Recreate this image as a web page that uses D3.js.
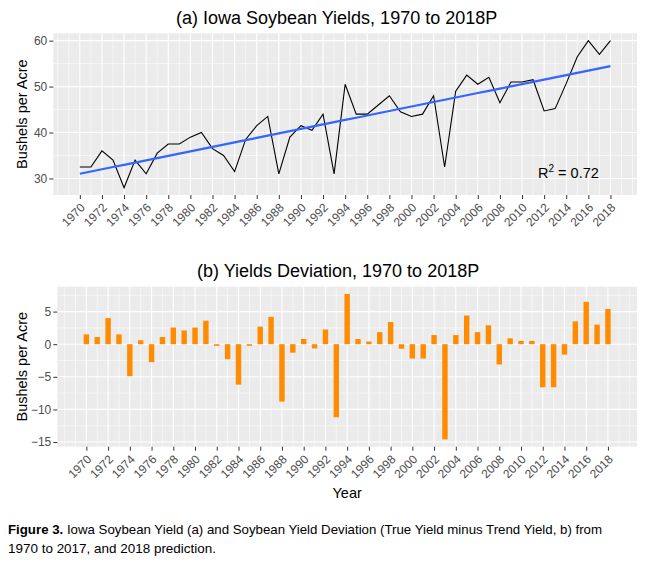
<!DOCTYPE html>
<html><head><meta charset="utf-8">
<script src="https://cdn.jsdelivr.net/npm/d3@7/dist/d3.min.js"></script>
<style>body{margin:0;background:#fff}text{font-family:"Liberation Sans",Arial,sans-serif}</style>
</head><body><svg id="c" width="649" height="565"></svg>
<script>
const years = [1970,1971,1972,1973,1974,1975,1976,1977,1978,1979,1980,1981,1982,1983,1984,1985,1986,1987,1988,1989,1990,1991,1992,1993,1994,1995,1996,1997,1998,1999,2000,2001,2002,2003,2004,2005,2006,2007,2008,2009,2010,2011,2012,2013,2014,2015,2016,2017,2018];
const yields = [32.5,32.5,36,34,28,34,31,35.5,37.5,37.5,39,40,36.5,35,31.5,38.5,41.5,43.5,31,39,41.5,40.5,44,31,50.5,44,44,46,48,44.5,43.5,44,48,32.5,49,52.5,50.5,52,46.5,51,51,51.5,44.7,45.2,50.7,56.5,60,57,60];
const deviations = [1.5,1.1,4.0,1.5,-4.9,0.6,-2.75,1.1,2.55,2.1,2.55,3.6,-0.25,-2.3,-6.2,-0.25,2.7,4.2,-8.8,-1.3,0.8,-0.65,2.25,-11.2,7.7,0.8,0.4,1.85,3.4,-0.7,-2.2,-2.2,1.4,-14.6,1.4,4.4,1.85,2.9,-3.1,0.9,0.5,0.5,-6.6,-6.6,-1.6,3.5,6.5,3.0,5.4];
const xTicks = [1970,1972,1974,1976,1978,1980,1982,1984,1986,1988,1990,1992,1994,1996,1998,2000,2002,2004,2006,2008,2010,2012,2014,2016,2018];
const xMinor = [1968,1969,1971,1973,1975,1977,1979,1981,1983,1985,1987,1989,1991,1993,1995,1997,1999,2001,2003,2005,2007,2009,2011,2013,2015,2017,2019,2020];
const yTicksA = [30,40,50,60];
const yMinorA = [35,45,55];
const yTicksB = [-15,-10,-5,0,5];
const yMinorB = [-12.5,-7.5,-2.5,2.5,7.5];
const titleA = "(a) Iowa Soybean Yields, 1970 to 2018P";
const titleB = "(b) Yields Deviation, 1970 to 2018P";
const rsqLabel = "0.72";

const svg = d3.select("#c");
svg.append("rect").attr("width",649).attr("height",565).attr("fill","#fff");

function expand(lo, hi){ const d=(hi-lo)*0.05; return [lo-d, hi+d]; }

function panel(g, x, y, xt, xm, yt, ym, L, R, T, B){
  g.append("rect").attr("x",L).attr("y",T).attr("width",R-L).attr("height",B-T).attr("fill","#EBEBEB");
  g.selectAll(".ym").data(ym).join("line").attr("x1",L).attr("x2",R).attr("y1",d=>y(d)).attr("y2",d=>y(d)).attr("stroke","#fff").attr("stroke-width",0.55);
  g.selectAll(".xm").data(xm).join("line").attr("y1",T).attr("y2",B).attr("x1",d=>x(d)).attr("x2",d=>x(d)).attr("stroke","#fff").attr("stroke-width",0.55);
  g.selectAll(".yM").data(yt).join("line").attr("x1",L).attr("x2",R).attr("y1",d=>y(d)).attr("y2",d=>y(d)).attr("stroke","#fff").attr("stroke-width",1.1);
  g.selectAll(".xM").data(xt).join("line").attr("y1",T).attr("y2",B).attr("x1",d=>x(d)).attr("x2",d=>x(d)).attr("stroke","#fff").attr("stroke-width",1.1);
}
function axes(g, x, y, xt, yt, L, B, fmt){
  const ya = g.append("g").attr("transform",`translate(${L},0)`).call(d3.axisLeft(y).tickValues(yt).tickSize(4).tickPadding(2).tickFormat(fmt));
  ya.select(".domain").remove();
  ya.selectAll("line").attr("stroke","#333").attr("stroke-width",1);
  ya.selectAll("text").attr("fill","#4D4D4D").style("font-size","12px");
  const xa = g.append("g").attr("transform",`translate(0,${B})`).call(d3.axisBottom(x).tickValues(xt).tickSize(4).tickFormat(d3.format("d")));
  xa.select(".domain").remove();
  xa.selectAll("line").attr("stroke","#333").attr("stroke-width",1);
  xa.selectAll("text").attr("fill","#4D4D4D").style("font-size","12px")
    .attr("text-anchor","end").attr("y",0).attr("dy",0)
    .attr("transform","translate(0,8) rotate(-45) translate(0,7.5)");
}

// ---------- Panel (a) ----------
{
  const L=53.3, R=637, T=33.3, B=195;
  const x = d3.scaleLinear().domain(expand(d3.min(years), d3.max(years))).range([L,R]);
  const y = d3.scaleLinear().domain(expand(d3.min(yields), d3.max(yields))).range([B,T]);
  const g = svg.append("g");
  panel(g, x, y, xTicks, xMinor, yTicksA, yMinorA, L, R, T, B);
  // least-squares trend (geom_smooth, method = lm)
  const mx = d3.mean(years), my = d3.mean(yields);
  const slope = d3.sum(years, (v,i)=>(v-mx)*(yields[i]-my)) / d3.sum(years, v=>(v-mx)*(v-mx));
  const icpt = my - slope*mx;
  g.append("path").datum(years.map((v,i)=>[v,yields[i]]))
    .attr("d", d3.line().x(d=>x(d[0])).y(d=>y(d[1])))
    .attr("fill","none").attr("stroke","#000").attr("stroke-width",1.1);
  g.append("path").datum(years)
    .attr("d", d3.line().x(d=>x(d)).y(d=>y(icpt+slope*d)))
    .attr("fill","none").attr("stroke","#3366FF").attr("stroke-width",2.2);
  axes(g, x, y, xTicks, yTicksA, L, B, d3.format("d"));
  const r = g.append("text").attr("x",538).attr("y",178).attr("fill","#000").style("font-size","14.5px");
  r.append("tspan").text("R");
  r.append("tspan").attr("dy",-6).style("font-size","10px").text("2");
  r.append("tspan").attr("dy",6).text(" = " + rsqLabel);
  g.append("text").attr("x",176).attr("y",24).style("font-size","18px").attr("fill","#000").text(titleA);
  g.append("text").attr("transform",`translate(27,${(T+B)/2}) rotate(-90)`).attr("text-anchor","middle").style("font-size","14.5px").attr("fill","#000").text("Bushels per Acre");
}

// ---------- Panel (b) ----------
{
  const L=57.3, R=637, T=286.7, B=446.7;
  const x = d3.scaleLinear().domain(expand(d3.min(years)-0.25, d3.max(years)+0.25)).range([L,R]);
  const y = d3.scaleLinear().domain(expand(d3.min(deviations), d3.max(deviations))).range([B,T]);
  const g = svg.append("g");
  panel(g, x, y, xTicks, xMinor, yTicksB, yMinorB, L, R, T, B);
  const bw = x(0.5) - x(0);
  g.selectAll(".bar").data(years.map((v,i)=>[v,deviations[i]])).join("rect")
    .attr("x", d=>x(d[0]) - bw/2).attr("width", bw)
    .attr("y", d=>y(Math.max(0,d[1]))).attr("height", d=>Math.abs(y(d[1])-y(0)))
    .attr("fill","#FF8C00");
  axes(g, x, y, xTicks, yTicksB, L, B, d3.format("d"));
  g.append("text").attr("x",197).attr("y",277).style("font-size","18px").attr("fill","#000").text(titleB);
  g.append("text").attr("transform",`translate(27,${(T+B)/2}) rotate(-90)`).attr("text-anchor","middle").style("font-size","14.5px").attr("fill","#000").text("Bushels per Acre");
  g.append("text").attr("x",(L+R)/2).attr("y",498).attr("text-anchor","middle").style("font-size","14.5px").attr("fill","#000").text("Year");
}

// ---------- Caption ----------
const cap1 = svg.append("text").attr("x",8).attr("y",534).style("font-size","13px").attr("fill","#000")
  .attr("textLength",594).attr("lengthAdjust","spacingAndGlyphs");
cap1.append("tspan").style("font-weight","bold").text("Figure 3.");
cap1.append("tspan").text(" Iowa Soybean Yield (a) and Soybean Yield Deviation (True Yield minus Trend Yield, b) from");
svg.append("text").attr("x",8).attr("y",553).style("font-size","13px").attr("fill","#000")
  .attr("textLength",208).attr("lengthAdjust","spacingAndGlyphs")
  .text("1970 to 2017, and 2018 prediction.");
</script></body></html>
